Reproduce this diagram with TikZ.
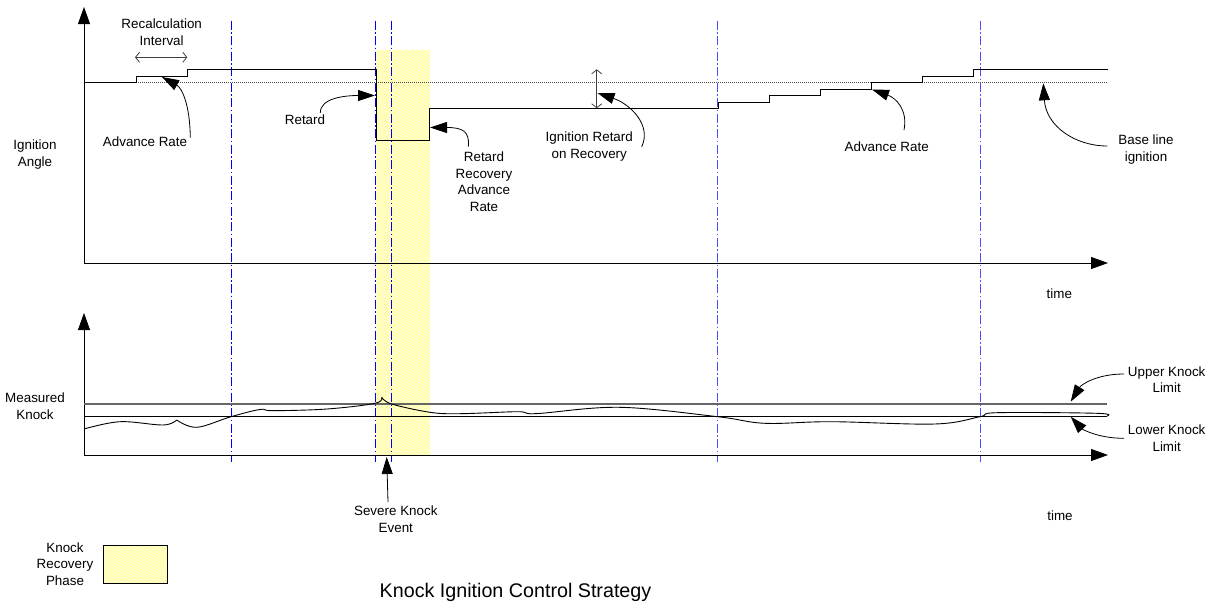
\documentclass[tikz,border=0pt]{standalone}
\usepackage{fontspec}
\setmainfont{Liberation Sans}
\usetikzlibrary{arrows.meta,patterns}

\begin{document}
\begin{tikzpicture}
[x=1pt,y=-1pt,
lbl/.style={font=\fontsize{13.4}{16.5}\selectfont,align=center,inner sep=0pt},
achse/.style={line width=0.9pt,-{Triangle[length=17pt,width=12pt]}},
pfeil/.style={line width=0.8pt,-{Triangle[length=17pt,width=11pt]}},
spanne/.style={line width=0.8pt,black!75,{Straight Barb[length=4pt,width=10pt]}-{Straight Barb[length=4pt,width=10pt]}},
marke/.style={blue,line width=1pt,dash pattern=on 9pt off 2.5pt on 1.5pt off 2.5pt},
marka/.style={marke,blue!70},
phase/.style={fill=yellow!12,postaction={pattern=north east lines,pattern color=yellow!55}},
]
\useasboundingbox (0,0) rectangle (1211,605);

% knock recovery phase
\path[phase] (376,50) rectangle (430,455);

% recalculation marks
\draw[marke] (231.3,20.7) -- (231.3,461.7);
\draw[marke] (375.3,20.7) -- (375.3,461.7);
\draw[marke] (391.3,20.7) -- (391.3,461.7);
\draw[marka] (717.7,20.7) -- (717.7,461.7);
\draw[marka] (980,20.7) -- (980,461.7);

% ignition angle plot
\draw[achse] (84,263) -- (84,7);
\draw[achse] (84,263) -- (1108,263);
\draw[black!70,line width=0.8pt,dash pattern=on 1pt off 1pt] (84,82.3) -- (1108,82.3);
\draw[line width=1pt] (84,82.3) -- (136,82.3) -- (136,76) -- (187,76) -- (187,69.7)
  -- (376,69.7) -- (376,140.3) -- (429.5,140.3) -- (429.5,108.3) -- (718,108.3)
  -- (718,102) -- (769,102) -- (769,95.5) -- (820,95.5) -- (820,89) -- (871,89)
  -- (871,82.5) -- (922,82.5) -- (922,76) -- (973.5,76) -- (973.5,69.7) -- (1108,69.7);

\node[lbl] (ign) at (35,154.7) {Ignition\\Angle};
\node[lbl] (t1) at (1059.3,294) {time};

\node[lbl] (recalc) at (161.7,32) {Recalculation\\Interval};
\coordinate (ra) at (135,57.3);
\coordinate (rb) at (187.3,57.3);
\draw[spanne] (ra) -- (rb);

\node[lbl] (advL) at (145,141.7) {Advance Rate};
\coordinate (advLt) at (162,77);
\draw[pfeil] (advL.east) ++(3,-4) .. controls (190,105) and (182,88) .. (advLt);

\node[lbl] (ret) at (305,120) {Retard};
\coordinate (rett) at (375,95.5);
\draw[pfeil] (ret.north east) ++(-5,-2) .. controls (320,98) and (345,95.5) .. (rett);

\node[lbl] (rra) at (484,181.5) {Retard\\Recovery\\Advance\\Rate};
\coordinate (rrat) at (430,127.5);
\draw[pfeil] (468.3,146.7) .. controls (470,131) and (462,127.5) .. (rrat);

\node[lbl] (ror) at (589.3,146.5) {Ignition Retard\\on Recovery};
\coordinate (rort) at (597.5,93);
\draw[pfeil] (641.7,146.7) .. controls (652,125) and (630,104) .. (rort);
\coordinate (da) at (596.7,69.3);
\coordinate (db) at (596.7,108.3);
\draw[spanne] (da) -- (db);

\node[lbl] (advR) at (886.7,146.7) {Advance Rate};
\coordinate (advRt) at (872,89.5);
\draw[pfeil] (904,130) .. controls (908,110) and (896,98) .. (advRt);

\node[lbl] (base) at (1146,149.5) {Base line\\ignition};
\coordinate (baset) at (1043.3,83.3);
\draw[pfeil] (1107.3,146) .. controls (1075,146) and (1046,126) .. (baset);

% measured knock plot
\draw[achse] (84,455) -- (84,313);
\draw[achse] (84,455) -- (1108,455);
\draw[black!60,line width=1.1pt] (84,404) -- (1107,404);
\draw[line width=0.9pt] (84,416.7) -- (1107,416.7);
\draw[line width=0.9pt] plot[smooth,tension=0.6] coordinates {(84,429) (120,421.7) (163,425) (176.7,420)};
\draw[line width=0.9pt] plot[smooth,tension=0.6] coordinates {(176.7,420) (196.7,427.3) (231,416.7) (260,409.5)
  (273,410.7) (327,409) (375,403.3) (381.7,397.3)};
\draw[line width=0.9pt] plot[smooth,tension=0.6] coordinates {(381.7,397.3) (391.7,404) (430,412.3) (460,413.7)
  (516.6,411.7) (527,413.3) (541,413.3) (620,407.3) (717.7,416.7) (765,423.3) (831.5,421.7)
  (935,424) (980,416.7) (997,412.7) (1097,413.3) (1107,416)};

\node[lbl] (mk) at (35,406) {Measured\\Knock};
\node[lbl] (t2) at (1060,515.5) {time};

\node[lbl] (ukl) at (1166.7,379.5) {Upper Knock\\Limit};
\coordinate (uklt) at (1070.7,401.7);
\draw[pfeil] (1124,374) .. controls (1096,374) and (1081,385) .. (uklt);

\node[lbl] (lkl) at (1166.7,438) {Lower Knock\\Limit};
\coordinate (lklt) at (1070.7,416.7);
\draw[pfeil] (1124,438.3) .. controls (1096,438.3) and (1081,428) .. (lklt);

\node[lbl] (sev) at (395.8,519.2) {Severe Knock\\Event};
\coordinate (sevt) at (386.7,457);
\draw[pfeil] (388,502) -- (sevt);

% legend and title
\node[lbl] (leg) at (65,564) {Knock\\Recovery\\Phase};
\path[phase] (103.3,545) rectangle (167.3,583.3);
\draw[line width=0.8pt] (103.3,545) rectangle (167.3,583.3);
\node[font=\fontsize{19.7}{22}\selectfont,inner sep=0pt] (title) at (515.5,592) {Knock Ignition Control Strategy};
\end{tikzpicture}
\end{document}
